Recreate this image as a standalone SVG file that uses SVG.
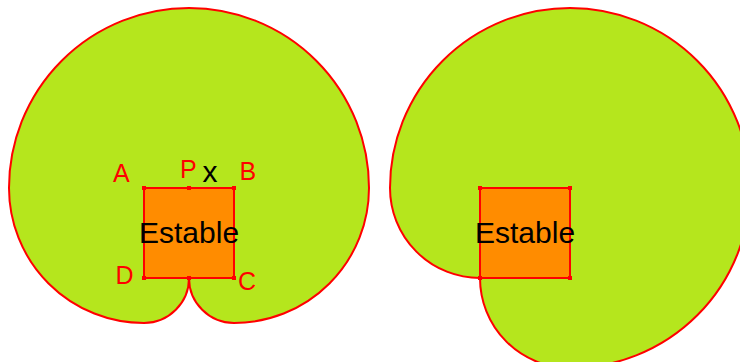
<svg xmlns="http://www.w3.org/2000/svg" width="740" height="362" viewBox="0 0 740 362">
<style>
.region{fill:#b5e61d;stroke:#ff0000;stroke-width:2}
.sq{fill:#ff8c00;stroke:#ff0000;stroke-width:2}
.dot{fill:#ff0000}
.lbl{font-family:"Liberation Sans",Arial,sans-serif;font-size:25px;fill:#ff0000}
.big{font-family:"Liberation Sans",Arial,sans-serif;font-size:30px;fill:#000000}
</style>
<rect width="740" height="362" fill="#ffffff"/>
<g id="left-figure">
<path class="region" d="M189,278 A45,45 0 0 1 144,323 A135,135 0 0 1 9,188 A180,180 0 0 1 189,8 A180,180 0 0 1 369,188 A135,135 0 0 1 234,323 A45,45 0 0 1 189,278 Z"/>
<rect class="sq" x="144" y="188" width="90" height="90"/>
<g class="dot">
<rect x="142" y="186" width="4" height="4"/>
<rect x="187" y="186" width="4" height="4"/>
<rect x="232" y="186" width="4" height="4"/>
<rect x="232" y="276" width="4" height="4"/>
<rect x="187" y="276" width="4" height="4"/>
<rect x="142" y="276" width="4" height="4"/>
</g>
<text class="lbl" x="113" y="181.5">A</text>
<text class="lbl" x="180" y="177.5">P</text>
<text class="big" x="202.5" y="181.5">x</text>
<text class="lbl" x="239.5" y="180">B</text>
<text class="lbl" x="115.5" y="284">D</text>
<text class="lbl" x="238" y="289.5">C</text>
<text class="big" x="139" y="242.5">Estable</text>
</g>
<g id="right-figure">
<path class="region" d="M480,278 A90,90 0 0 0 570,368 A180,180 0 1 0 390,188 A90,90 0 0 0 480,278 Z"/>
<rect class="sq" x="480" y="188" width="90" height="90"/>
<g class="dot">
<rect x="478" y="186" width="4" height="4"/>
<rect x="568" y="186" width="4" height="4"/>
<rect x="568" y="276" width="4" height="4"/>
<rect x="478" y="276" width="4" height="4"/>
</g>
<text class="big" x="475" y="242.5">Estable</text>
</g>
</svg>
